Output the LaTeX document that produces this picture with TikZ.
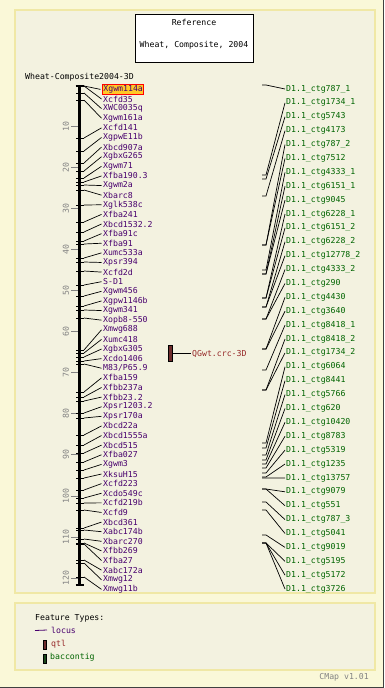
\documentclass[tikz,border=0pt]{standalone}
\definecolor{PageColor}{RGB}{250,248,216}
\definecolor{PanelColor}{RGB}{243,242,224}
\definecolor{PanelEdge}{RGB}{240,232,165}
\definecolor{LocusColor}{RGB}{72,0,110}
\definecolor{QtlColor}{RGB}{150,40,40}
\definecolor{QtlFill}{RGB}{110,45,45}
\definecolor{ContigColor}{RGB}{0,100,0}
\definecolor{ContigFill}{RGB}{25,70,25}
\definecolor{ScaleColor}{RGB}{130,130,130}
\definecolor{HiliteColor}{RGB}{255,200,40}
\usepackage{fontspec}
\setmonofont{DejaVu Sans Mono}
\usepackage{tikz}
\usetikzlibrary{positioning, calc}
\tikzset{
  maptext/.style={font=\ttfamily\fontsize{8.2}{9}\selectfont, inner sep=0pt, anchor=west},
  locuslabel/.style={maptext, text=LocusColor},
  contiglabel/.style={maptext, text=ContigColor},
  scalelabel/.style={maptext, anchor=center, rotate=90, text=ScaleColor},
  hilite/.style={draw=red, fill=HiliteColor, inner sep=1pt, line width=0.8pt},
  conn/.style={line width=0.7pt},
  glyph/.style={draw=black, line width=0.5pt, minimum width=3.5pt, minimum height=9pt, inner sep=0pt}
}

\begin{document}
\begin{tikzpicture}[x=1pt, y=-1pt]
          \useasboundingbox (0,0) rectangle (384,688);
          \fill[PageColor] (0,0) rectangle (384,688);
          \draw[black!75, line width=1.2pt] (383.4,0) -- (383.4,687.4) -- (0,687.4);
          \filldraw[fill=PanelColor, draw=PanelEdge, line width=1.5pt] (15,10) rectangle (375,593);
          \filldraw[fill=PanelColor, draw=PanelEdge, line width=1.5pt] (15,603) rectangle (375,670);

          \node[draw, fill=white, line width=0.7pt, minimum width=118pt, minimum height=48pt] (refbox) at (194,38) {};
          \node[maptext, anchor=center] (reftitle) at (194,22.5) {Reference};
          \node[maptext, anchor=center] (refname) at (194,45) {Wheat, Composite, 2004};
          \node[maptext] (maptitle) at (25,77) {Wheat-Composite2004-3D};

          \coordinate (bartop) at (79.5,85.5);
          \coordinate (barbot) at (79.5,585);
          \draw[line width=3pt] (bartop) -- (barbot);
          \draw[line width=1.2pt] ([xshift=-4pt]bartop) -- ([xshift=4pt]bartop);
          \draw[line width=1.2pt] ([xshift=-4pt]barbot) -- ([xshift=4pt]barbot);
          \foreach \m in {10,20,...,120} {
            \draw[ScaleColor, line width=1pt] (71,{85.7+4.103*\m}) -- (78,{85.7+4.103*\m});
            \node[scalelabel] (tick\m) at (66,{85.7+4.103*\m}) {\m};
          }

          \foreach \y [count=\i] in {86,86,93,100,138,151,163,171,178,182,185,190,205,222,232,241,244,258,262,271,285,296,306,310,318,350,353,357,361,364,392,397,401,413,418,435,445,453,462,470,478,490,498,503,510,528,530,539,543,544,560,563,577} {
            \draw[line width=1pt] (76,\y) -- (84,\y);
            \coordinate (L\i) at (84,\y);
          }
          \node[locuslabel, hilite] (N1) at (102,89.4) {Xgwm114a};
          \foreach \name [count=\i from 2] in {Xcfd35,XWC0035q,Xgwm161a,Xcfd141,XgpwE11b,Xbcd907a,XgbxG265,Xgwm71,Xfba190.3,Xgwm2a,Xbarc8,Xglk538c,Xfba241,Xbcd1532.2,Xfba91c,Xfba91,Xumc533a,Xpsr394,Xcfd2d,S-D1,Xgwm456,Xgpw1146b,Xgwm341,Xopb8-550,Xmwg688,Xumc418,XgbxG305,Xcdo1406,M83/P65.9,Xfba159,Xfbb237a,Xfbb23.2,Xpsr1203.2,Xpsr170a,Xbcd22a,Xbcd1555a,Xbcd515,Xfba027,Xgwm3,XksuH15,Xcfd223,Xcdo549c,Xcfd219b,Xcfd9,Xbcd361,Xabc174b,Xbarc270,Xfbb269,Xfba27,Xabc172a,Xmwg12,Xmwg11b}
            \node[locuslabel] (N\i) at (103,{89.4+(\i-1)*9.615}) {\name};
          \foreach \i in {1,...,53}
            \draw[conn] (L\i) -- ([xshift=-1.5pt]N\i.west);

          \node[glyph, fill=QtlFill, minimum height=16pt] (qtl) at (170,353.5) {};
          \node[maptext, text=QtlColor] (qtlname) at (192,353.5) {QGwt.crc-3D};
          \draw[conn] (qtl.east) -- ([xshift=-1pt]qtlname.west);

          \foreach \y [count=\i] in {85,175,179,196,245,245,270,274,274,298,298,307,307,319,319,349,349,370,390,390,443,448,455,460,464,468,473,477,478,489,489,502,510,535,543,543,543}
            \coordinate (C\i) at (262,\y);
          \foreach \name [count=\i] in {787\_1,1734\_1,5743,4173,787\_2,7512,4333\_1,6151\_1,9045,6228\_1,6151\_2,6228\_2,12778\_2,4333\_2,290,4430,3640,8418\_1,8418\_2,1734\_2,6064,8441,5766,620,10420,8783,5319,1235,13757,9079,551,787\_3,5041,9019,5195,5172,3726}
            \node[contiglabel] (D\i) at (286,{89+(\i-1)*13.89}) {D1.1\_ctg\name};
          \foreach \i in {1,...,37}
            \draw[conn] (C\i) -- ++(4,0) -- ([xshift=-1pt]D\i.west);

          \node[maptext] (legtitle) at (35,618) {Feature Types:};
          \coordinate (legline) at (35,630.5);
          \node[locuslabel] (leglocus) at (51,630) {locus};
          \draw[LocusColor, line width=0.8pt] (legline) -- ([xshift=-4pt]leglocus.west);
          \node[glyph, fill=QtlFill] (legqtl) at (44.5,645) {};
          \node[maptext, text=QtlColor] (legqtltext) at (51,644) {qtl};
          \node[glyph, fill=ContigFill] (legctg) at (44.5,658.5) {};
          \node[maptext, text=ContigColor] (legctgtext) at (50,657) {baccontig};
          \node[maptext, anchor=east, text=ScaleColor] (version) at (369,677) {CMap v1.01};
        \end{tikzpicture}
\end{document}
